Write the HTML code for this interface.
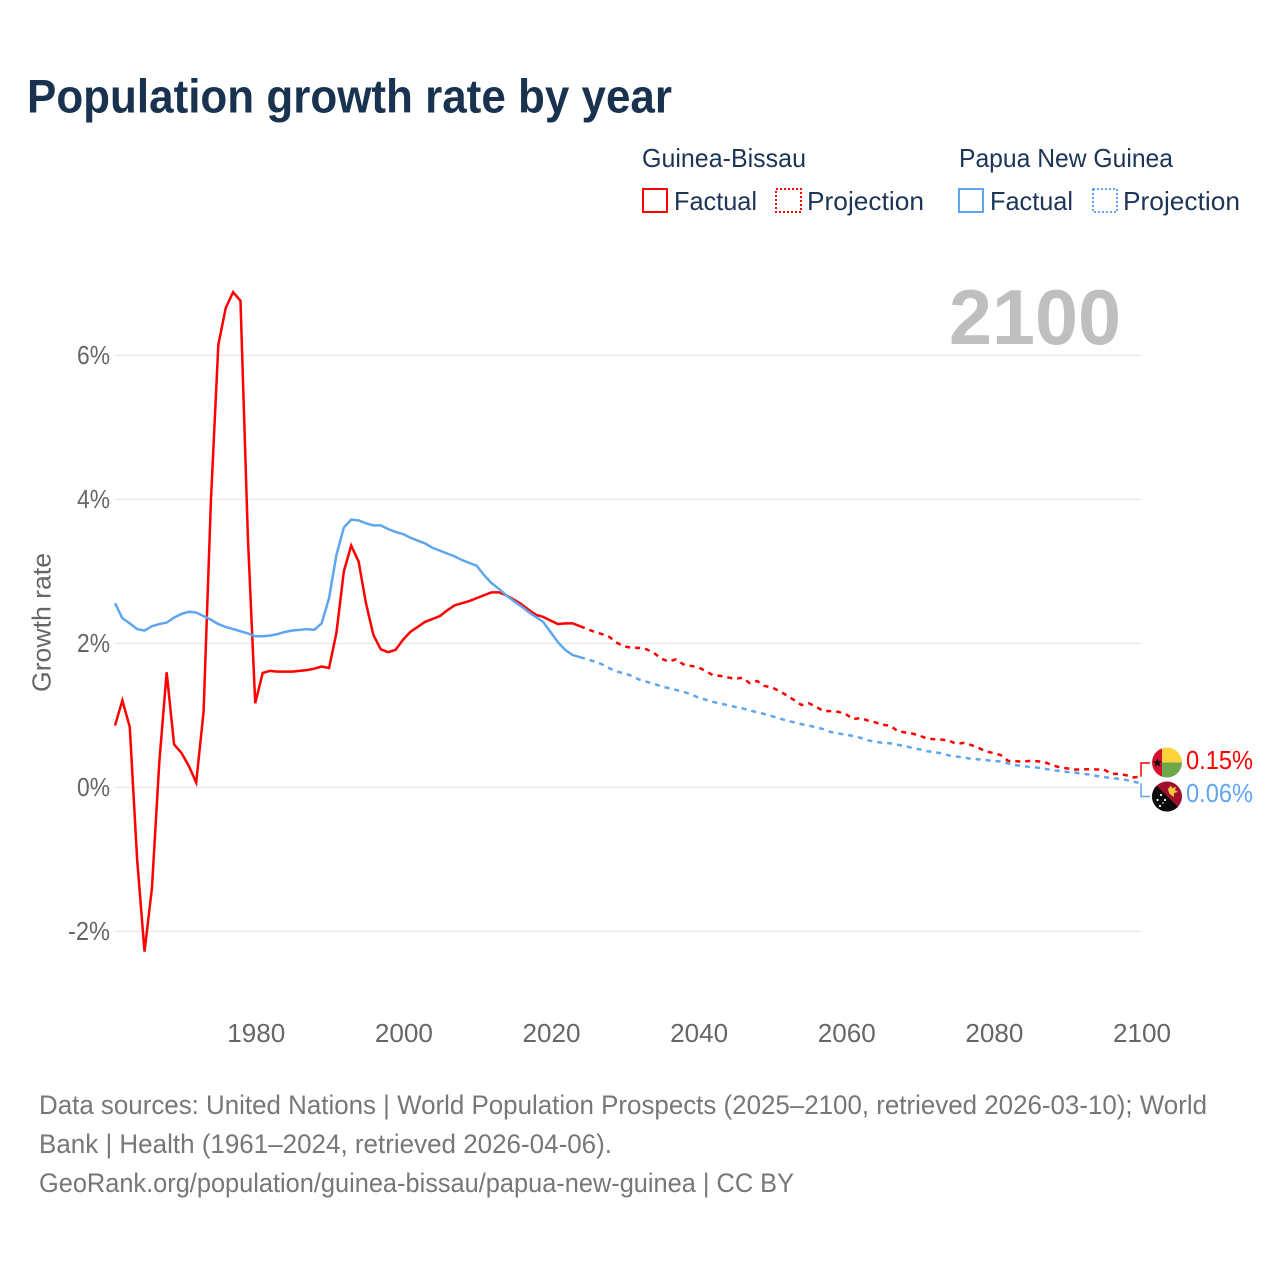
<!DOCTYPE html>
<html lang="en">
<head>
<meta charset="utf-8">
<title>Population growth rate by year</title>
<style>
  html, body { margin: 0; padding: 0; background: #fff; }
  svg { display: block; font-family: "Liberation Sans", sans-serif; }
</style>
</head>
<body>
<svg id="chart" xmlns="http://www.w3.org/2000/svg" width="1280" height="1280" viewBox="0 0 1280 1280">
  <defs>
    <clipPath id="clip-gw"><circle cx="1167" cy="762.5" r="15"/></clipPath>
    <clipPath id="clip-pg"><circle cx="1167" cy="796.5" r="15"/></clipPath>
  </defs>
  <rect x="0" y="0" width="1280" height="1280" fill="#ffffff"/>

  <text x="27" y="112.5" font-size="47" font-weight="700" fill="#18324f" textLength="645" lengthAdjust="spacingAndGlyphs">Population growth rate by year</text>

  <g font-size="26" fill="#1c3557">
    <text x="642" y="167" textLength="164" lengthAdjust="spacingAndGlyphs">Guinea-Bissau</text>
    <text x="959" y="167" textLength="214" lengthAdjust="spacingAndGlyphs">Papua New Guinea</text>
    <rect x="643" y="189" width="24" height="23" fill="none" stroke="#ff0000" stroke-width="2"/>
    <text x="674" y="210" textLength="83" lengthAdjust="spacingAndGlyphs">Factual</text>
    <rect x="776" y="189" width="25" height="23" fill="none" stroke="#ff0000" stroke-width="2" stroke-dasharray="2 2"/>
    <text x="807" y="210" textLength="117" lengthAdjust="spacingAndGlyphs">Projection</text>
    <rect x="959" y="189" width="24" height="23" fill="none" stroke="#5fa5ef" stroke-width="2"/>
    <text x="990" y="210" textLength="83" lengthAdjust="spacingAndGlyphs">Factual</text>
    <rect x="1093" y="189" width="24" height="23" fill="none" stroke="#5fa5ef" stroke-width="2" stroke-dasharray="2 2"/>
    <text x="1123" y="210" textLength="117" lengthAdjust="spacingAndGlyphs">Projection</text>
  </g>

  <g id="grid"></g>
  <g id="y-ticks"></g>
  <g id="x-ticks"></g>

  <text transform="translate(50.5,622.5) rotate(-90)" text-anchor="middle" font-size="26" fill="#666666" textLength="139" lengthAdjust="spacingAndGlyphs">Growth rate</text>

  <text x="949" y="344" font-size="78" font-weight="700" fill="#bfbfbf" textLength="172" lengthAdjust="spacingAndGlyphs">2100</text>

  <g id="series"></g>

  <path id="conn-gw" fill="none" stroke="#ff0000" stroke-width="1.5"/>
  <path id="conn-pg" fill="none" stroke="#5fa5ef" stroke-width="1.5"/>

  <g clip-path="url(#clip-gw)">
    <rect x="1152" y="747" width="10" height="31" fill="#d8102f"/>
    <rect x="1162" y="747" width="20" height="15.5" fill="#fcd33a"/>
    <rect x="1162" y="762.5" width="20" height="15.5" fill="#6fa84a"/>
    <polygon points="1157.5,758 1158.8,761.2 1162,761.4 1159.5,763.5 1160.4,766.8 1157.5,765 1154.6,766.8 1155.5,763.5 1153,761.4 1156.2,761.2" fill="#111111"/>
  </g>
  <g clip-path="url(#clip-pg)">
    <rect x="1152" y="781" width="31" height="31" fill="#a0102d"/>
    <polygon points="1152,781 1183,812 1152,812" fill="#0a0a0a"/>
    <polygon points="1168,789 1171,785.5 1172,788 1176,787 1175,790 1178,792 1174,793 1174,797 1171,795 1169,793" fill="#f5c63c"/>
    <circle cx="1161" cy="795" r="1.1" fill="#fff"/>
    <circle cx="1157.5" cy="800" r="1.1" fill="#fff"/>
    <circle cx="1165" cy="800" r="1.1" fill="#fff"/>
    <circle cx="1160" cy="806" r="1.1" fill="#fff"/>
    <circle cx="1163" cy="803" r="0.8" fill="#fff"/>
  </g>

  <text id="value-gw" x="1186" y="769" font-size="26" fill="#ff0000" textLength="67" lengthAdjust="spacingAndGlyphs">0.15%</text>
  <text id="value-pg" x="1186" y="802" font-size="26" fill="#5fa5ef" textLength="67" lengthAdjust="spacingAndGlyphs">0.06%</text>

  <g font-size="27" fill="#777777">
    <text x="39" y="1114" textLength="1168" lengthAdjust="spacingAndGlyphs">Data sources: United Nations | World Population Prospects (2025–2100, retrieved 2026-03-10); World</text>
    <text x="39" y="1153" textLength="573" lengthAdjust="spacingAndGlyphs">Bank | Health (1961–2024, retrieved 2026-04-06).</text>
    <text x="39" y="1192" textLength="755" lengthAdjust="spacingAndGlyphs">GeoRank.org/population/guinea-bissau/papua-new-guinea | CC BY</text>
  </g>
</svg>

<script>
const yTickValues = [6, 4, 2, 0, -2];
const yTickLabels = ["6%", "4%", "2%", "0%", "-2%"];
const xTickYears = [1980, 2000, 2020, 2040, 2060, 2080, 2100];
const firstYear = 1961;
const lastFactualYear = 2024;

const gwFactual = [0.86,1.21,0.84,-1.0,-2.28,-1.4,0.35,1.6,0.6,0.48,0.3,0.07,1.05,4.0,6.15,6.66,6.88,6.76,3.48,1.17,
  1.59,1.62,1.61,1.61,1.61,1.62,1.63,1.65,1.68,1.66,2.15,3.0,3.36,3.14,2.56,2.12,1.92,1.88,1.91,2.05,
  2.16,2.23,2.30,2.34,2.38,2.46,2.53,2.56,2.59,2.63,2.67,2.71,2.71,2.67,2.61,2.55,2.47,2.40,2.37,2.32,
  2.27,2.28,2.28,2.24];

const pgFactual = [2.56,2.35,2.28,2.20,2.18,2.24,2.27,2.29,2.36,2.41,2.44,2.43,2.38,2.33,2.27,2.23,2.20,2.17,2.14,2.10,
  2.10,2.11,2.13,2.16,2.18,2.19,2.20,2.19,2.28,2.63,3.23,3.61,3.72,3.71,3.67,3.64,3.64,3.59,3.55,3.52,
  3.47,3.43,3.39,3.33,3.29,3.25,3.21,3.16,3.12,3.08,2.95,2.84,2.76,2.67,2.59,2.52,2.44,2.37,2.30,2.16,
  2.02,1.91,1.84,1.81];

const gwProjection = [2.20,2.16,2.13,2.09,2.01,1.96,1.94,1.94,1.92,1.87,1.79,1.75,1.78,1.71,1.69,1.67,1.62,1.56,1.55,1.53,
  1.51,1.525,1.45,1.48,1.41,1.39,1.34,1.28,1.215,1.145,1.17,1.12,1.06,1.06,1.05,1.02,0.95,0.965,0.93,0.905,
  0.87,0.86,0.785,0.765,0.75,0.72,0.68,0.67,0.665,0.65,0.605,0.62,0.59,0.55,0.50,0.48,0.45,0.37,0.365,0.36,
  0.37,0.365,0.35,0.31,0.28,0.265,0.25,0.25,0.255,0.25,0.25,0.19,0.19,0.17,0.14,0.15];

const pgProjection = [1.78,1.75,1.71,1.655,1.61,1.585,1.55,1.50,1.47,1.44,1.405,1.38,1.355,1.33,1.295,1.25,1.22,1.19,1.165,1.145,
  1.12,1.10,1.07,1.045,1.02,0.99,0.96,0.93,0.905,0.88,0.86,0.835,0.81,0.77,0.75,0.735,0.715,0.69,0.655,0.635,
  0.62,0.615,0.595,0.575,0.55,0.53,0.505,0.49,0.475,0.445,0.43,0.415,0.40,0.39,0.38,0.37,0.36,0.335,0.31,0.30,
  0.285,0.275,0.26,0.24,0.23,0.215,0.21,0.19,0.18,0.16,0.145,0.13,0.12,0.105,0.08,0.06];

const SVG_NS = "http://www.w3.org/2000/svg";
const xScale = (year) => 115 + (year - 1961) * (1141 - 115) / (2100 - 1961);
const yScale = (value) => 787.5 - value * 72;

function makeEl(tag) {
  return document.createElementNS(SVG_NS, tag);
}

function pathFrom(startYear, values) {
  let d = "";
  for (let i = 0; i < values.length; i++) {
    d += (i === 0 ? "M" : "L") + xScale(startYear + i).toFixed(2) + " " + yScale(values[i]).toFixed(2);
  }
  return d;
}

const grid = document.getElementById("grid");
const yTicks = document.getElementById("y-ticks");
yTickValues.forEach((v, i) => {
  const line = makeEl("line");
  
  
  line.setAttribute("x1", xScale(1961));
  line.setAttribute("x2", xScale(2100));
  line.setAttribute("y1", yScale(v));
  line.setAttribute("y2", yScale(v));
  line.setAttribute("stroke", "#e8e8e8");
  line.setAttribute("stroke-width", "1.3");
  grid.appendChild(line);

  const label = makeEl("text");
  
  
  label.setAttribute("x", 110);
  label.setAttribute("y", yScale(v) + 8.5);
  label.setAttribute("text-anchor", "end");
  label.setAttribute("font-size", "26");
  label.setAttribute("fill", "#666666");
  label.setAttribute("textLength", 33 + (yTickLabels[i].length - 2) * 9);
  label.setAttribute("lengthAdjust", "spacingAndGlyphs");
  label.textContent = yTickLabels[i];
  yTicks.appendChild(label);
});

const xTicks = document.getElementById("x-ticks");
xTickYears.forEach((year) => {
  const label = makeEl("text");
  
  
  label.setAttribute("x", xScale(year) + 1);
  label.setAttribute("y", 1042);
  label.setAttribute("text-anchor", "middle");
  label.setAttribute("font-size", "26");
  label.setAttribute("fill", "#666666");
  label.setAttribute("textLength", "58");
  label.setAttribute("lengthAdjust", "spacingAndGlyphs");
  label.textContent = String(year);
  xTicks.appendChild(label);
});

const seriesGroup = document.getElementById("series");

const gwProjLine = makeEl("path");


gwProjLine.setAttribute("d", pathFrom(lastFactualYear, [gwFactual[gwFactual.length - 1]].concat(gwProjection)));
gwProjLine.setAttribute("fill", "none");
gwProjLine.setAttribute("stroke", "#ff0000");
gwProjLine.setAttribute("stroke-width", "2.5");
gwProjLine.setAttribute("stroke-dasharray", "5 5");
seriesGroup.appendChild(gwProjLine);

const pgProjLine = makeEl("path");


pgProjLine.setAttribute("d", pathFrom(lastFactualYear, [pgFactual[pgFactual.length - 1]].concat(pgProjection)));
pgProjLine.setAttribute("fill", "none");
pgProjLine.setAttribute("stroke", "#5fa5ef");
pgProjLine.setAttribute("stroke-width", "2.5");
pgProjLine.setAttribute("stroke-dasharray", "5 5");
seriesGroup.appendChild(pgProjLine);

const gwFactLine = makeEl("path");


gwFactLine.setAttribute("d", pathFrom(firstYear, gwFactual));
gwFactLine.setAttribute("fill", "none");
gwFactLine.setAttribute("stroke", "#ff0000");
gwFactLine.setAttribute("stroke-width", "2.5");
seriesGroup.appendChild(gwFactLine);

const pgFactLine = makeEl("path");


pgFactLine.setAttribute("d", pathFrom(firstYear, pgFactual));
pgFactLine.setAttribute("fill", "none");
pgFactLine.setAttribute("stroke", "#5fa5ef");
pgFactLine.setAttribute("stroke-width", "2.5");
seriesGroup.appendChild(pgFactLine);

const endX = xScale(2100);
const gwEnd = gwProjection[gwProjection.length - 1];
const pgEnd = pgProjection[pgProjection.length - 1];
document.getElementById("conn-gw").setAttribute("d", "M" + endX + " " + yScale(gwEnd) + "V763H1150");
document.getElementById("conn-pg").setAttribute("d", "M" + endX + " " + yScale(pgEnd) + "V796.5H1150");
document.getElementById("value-gw").textContent = gwEnd.toFixed(2) + "%";
document.getElementById("value-pg").textContent = pgEnd.toFixed(2) + "%";
</script>
</body>
</html>
